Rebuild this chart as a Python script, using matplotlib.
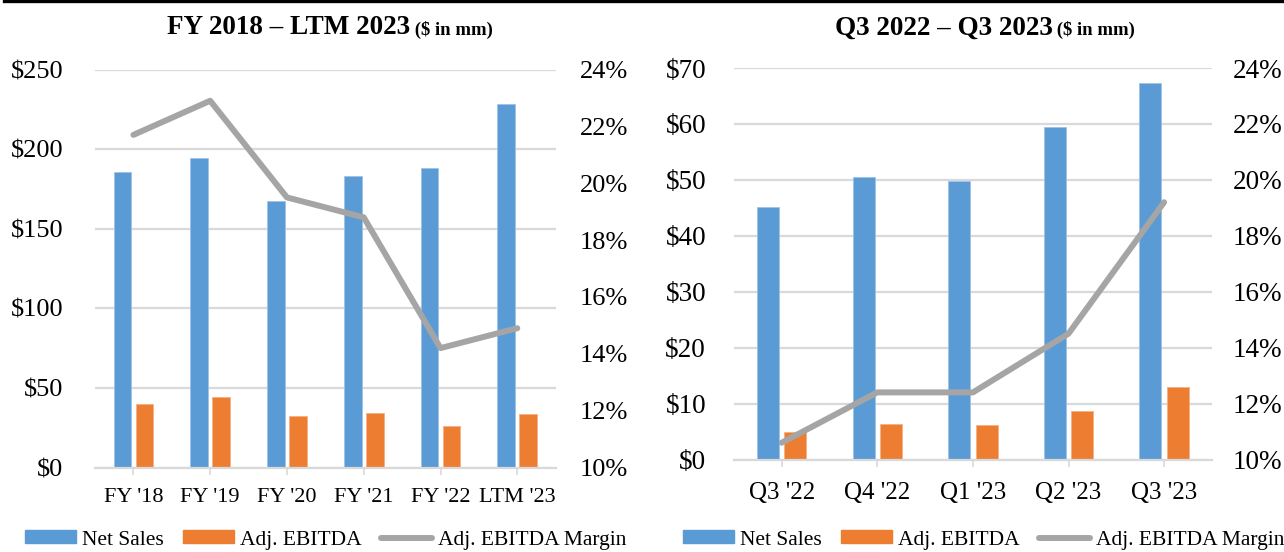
import matplotlib
matplotlib.use("Agg")
import matplotlib.pyplot as plt
from matplotlib.lines import Line2D
from matplotlib.patches import Patch
from matplotlib.offsetbox import TextArea, HPacker, AnnotationBbox
import numpy as np

plt.rcParams["font.family"] = ["Liberation Serif", "DejaVu Serif"]

# Annual figures ($ in mm)
annual_labels = ["FY '18", "FY '19", "FY '20", "FY '21", "FY '22", "LTM '23"]
annual_sales = [185.8, 194.2, 167.5, 183.1, 188.1, 228.5]
annual_ebitda = [39.9, 44.3, 32.2, 34.0, 26.1, 33.8]
annual_margin = [21.7, 22.9, 19.5, 18.8, 14.2, 14.9]

# Quarterly figures ($ in mm)
quarter_labels = ["Q3 '22", "Q4 '22", "Q1 '23", "Q2 '23", "Q3 '23"]
quarter_sales = [45.2, 50.6, 49.8, 59.5, 67.4]
quarter_ebitda = [4.9, 6.3, 6.2, 8.7, 13.0]
quarter_margin = [10.6, 12.4, 12.4, 14.5, 19.2]

BLUE = "#5B9BD5"
ORANGE = "#ED7D31"
GRAY = "#A5A5A5"
GRID = "#D9D9D9"

W, H = 1284, 552
fig = plt.figure(figsize=(W / 100, H / 100), dpi=100)


def panel(rect, labels, sales, ebitda, margin, ymax, ystep,
          tick_fs, cat_fs, lpad, rpad, cpad):
    ax = fig.add_axes(rect)
    x = np.arange(len(labels))
    bw, off = 0.23, 0.143
    ax.bar(x - off, sales, bw, color=BLUE, edgecolor="#9DC3E6", linewidth=0.6, zorder=2)
    ax.bar(x + off, ebitda, bw, color=ORANGE, edgecolor="#F4B183", linewidth=0.6, zorder=2)
    ax.set_xlim(-0.5, len(labels) - 0.5)
    ax.set_ylim(0, ymax)
    ax.set_yticks(np.arange(0, ymax + 1, ystep))
    ax.set_yticklabels([f"${int(v)}" for v in np.arange(0, ymax + 1, ystep)])
    ax.yaxis.grid(True, color=GRID, linewidth=1.6, zorder=0)
    ax.set_axisbelow(True)
    for s in ["top", "right", "left"]:
        ax.spines[s].set_visible(False)
    ax.spines["bottom"].set_color(GRID)
    ax.spines["bottom"].set_linewidth(1.6)
    ax.set_xticks(x)
    ax.set_xticklabels(labels, fontsize=cat_fs)
    ax.tick_params(axis="x", length=5, width=1.2, color=GRID, pad=cpad)
    ax.tick_params(axis="y", length=0, labelsize=tick_fs, pad=lpad)

    ax2 = ax.twinx()
    ax2.plot(x, margin, color=GRAY, linewidth=4.3, solid_capstyle="round",
             solid_joinstyle="round", zorder=3)
    ax2.set_ylim(10, 24)
    ax2.set_yticks(np.arange(10, 25, 2))
    ax2.set_yticklabels([f"{v}%" for v in range(10, 25, 2)])
    ax2.tick_params(axis="y", length=0, labelsize=tick_fs, pad=rpad)
    for s in ax2.spines.values():
        s.set_visible(False)
    return ax


def title(xc, yc, main, sub):
    t1 = TextArea(main, textprops=dict(fontsize=19.5, fontweight="bold"))
    t2 = TextArea(" " + sub, textprops=dict(fontsize=13.5, fontweight="bold"))
    box = HPacker(children=[t1, t2], align="baseline", pad=0, sep=0)
    ab = AnnotationBbox(box, (xc, yc), xycoords="figure fraction", frameon=False,
                        box_alignment=(0.5, 0.5))
    fig.add_artist(ab)


def legend(xc):
    handles = [Patch(color=BLUE), Patch(color=ORANGE),
               Line2D([], [], color=GRAY, linewidth=4.3, solid_capstyle="round")]
    fig.legend(handles, ["Net Sales", "Adj. EBITDA", "Adj. EBITDA Margin"],
               loc="center", bbox_to_anchor=(xc, 1 - 540 / H), ncol=3,
               frameon=False, fontsize=15.5, handlelength=2.35, handleheight=0.55,
               handletextpad=0.3, columnspacing=0.9, borderpad=0)


panel([95 / W, 1 - 467.5 / H, 460.7 / W, 398 / H],
      annual_labels, annual_sales, annual_ebitda, annual_margin,
      250, 50, tick_fs=19, cat_fs=16, lpad=23, rpad=17.5, cpad=10)
panel([733.9 / W, 1 - 459.5 / H, 478 / W, 391.5 / H],
      quarter_labels, quarter_sales, quarter_ebitda, quarter_margin,
      70, 10, tick_fs=19.5, cat_fs=18, lpad=20, rpad=15, cpad=11)

title(330 / W, 1 - 28 / H, "FY 2018 \u2013 LTM 2023", "($ in mm)")
title(985 / W, 1 - 28 / H, "Q3 2022 \u2013 Q3 2023", "($ in mm)")
legend(326 / W)
legend(984 / W)

fig.add_artist(Line2D([4 / W, 1], [1 - 1 / H, 1 - 1 / H], color="black",
                      linewidth=2.4, transform=fig.transFigure))

fig.savefig("out.png", dpi=100, facecolor="white")
